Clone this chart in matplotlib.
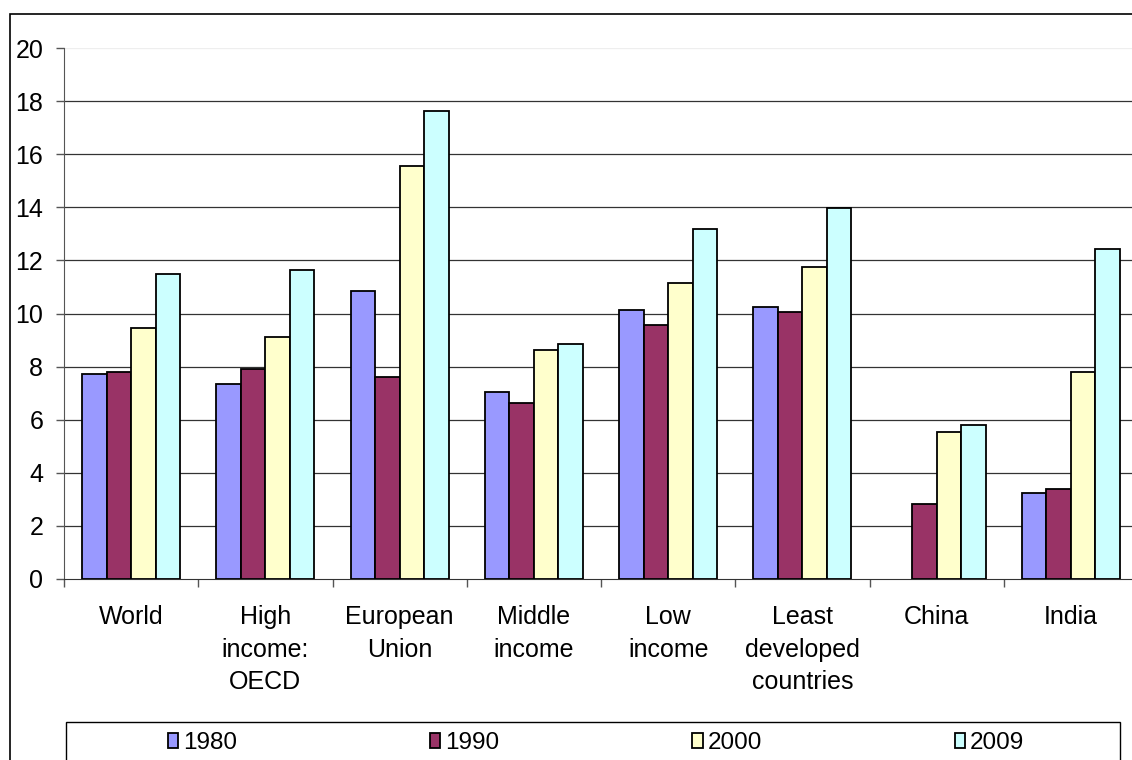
import matplotlib.pyplot as plt
from matplotlib.patches import Rectangle
import numpy as np

plt.rcParams['font.family'] = ['Liberation Sans', 'DejaVu Sans']

# Categories and series values
categories = ['World', 'High\nincome:\nOECD', 'European\nUnion', 'Middle\nincome',
              'Low\nincome', 'Least\ndeveloped\ncountries', 'China', 'India']
years = ['1980', '1990', '2000', '2009']
v1980 = [7.72, 7.36, 10.86, 7.06, 10.13, 10.26, np.nan, 3.24]
v1990 = [7.79, 7.92, 7.60, 6.64, 9.58, 10.07, 2.82, 3.38]
v2000 = [9.46, 9.10, 15.56, 8.63, 11.15, 11.77, 5.53, 7.79]
v2009 = [11.47, 11.64, 17.62, 8.87, 13.20, 13.99, 5.79, 12.43]
colors = ['#9999FF', '#993366', '#FFFFCC', '#CCFFFF']

series = [v1980, v1990, v2000, v2009]

fig = plt.figure(figsize=(11.32, 7.6), dpi=100)
ax = fig.add_axes([64 / 1132, 1 - 579 / 760, 1074 / 1132, 531 / 760])

x = np.arange(len(categories))
group = 0.73
bw = group / len(series)
for i, (vals, col, yr) in enumerate(zip(series, colors, years)):
    ax.bar(x - group / 2 + bw * (i + 0.5), vals, width=bw, color=col,
           edgecolor='black', linewidth=1.3, label=yr, zorder=3)

ax.set_xlim(-0.5, len(categories) - 0.5)
ax.set_ylim(0, 20)
ax.set_yticks(range(0, 21, 2))
for y in range(2, 20, 2):
    ax.axhline(y, color='#333333', linewidth=0.9, zorder=1)
ax.axhline(20, color='#eeeeee', linewidth=0.9, zorder=1)

# category boundaries as major ticks, labels on minor ticks
ax.set_xticks(np.arange(len(categories) + 1) - 0.5)
ax.set_xticklabels([])
ax.set_xticks(x, minor=True)
ax.set_xticklabels(categories, minor=True, fontsize=18, linespacing=1.45)
ax.tick_params(axis='x', which='major', direction='out', length=6, width=1, color='#555555')
ax.tick_params(axis='x', which='minor', length=0, pad=19)
ax.tick_params(axis='y', direction='out', length=6, width=1, color='#555555',
               labelsize=18, pad=9)

for s in ['top', 'right']:
    ax.spines[s].set_visible(False)
ax.spines['left'].set_color('#555555')
ax.spines['bottom'].set_color('#333333')

# outer chart frame
fig.patches.append(Rectangle((10 / 1132, -0.1), 1.5, 1.1 - 14 / 760,
                             transform=fig.transFigure, fill=False,
                             edgecolor='black', linewidth=1.2))
# legend frame
fig.patches.append(Rectangle((66 / 1132, -0.1), 1054 / 1132, 0.1 + 1 - 722 / 760,
                             transform=fig.transFigure, fill=False,
                             edgecolor='black', linewidth=1.0))

fig.legend(loc='center', bbox_to_anchor=(596 / 1132, 1 - 743 / 760), ncol=4,
           frameon=False, fontsize=17.5, handlelength=0.42, handleheight=0.6,
           handletextpad=0.2, columnspacing=7.95, borderaxespad=0)

fig.savefig('out.png', dpi=100)
